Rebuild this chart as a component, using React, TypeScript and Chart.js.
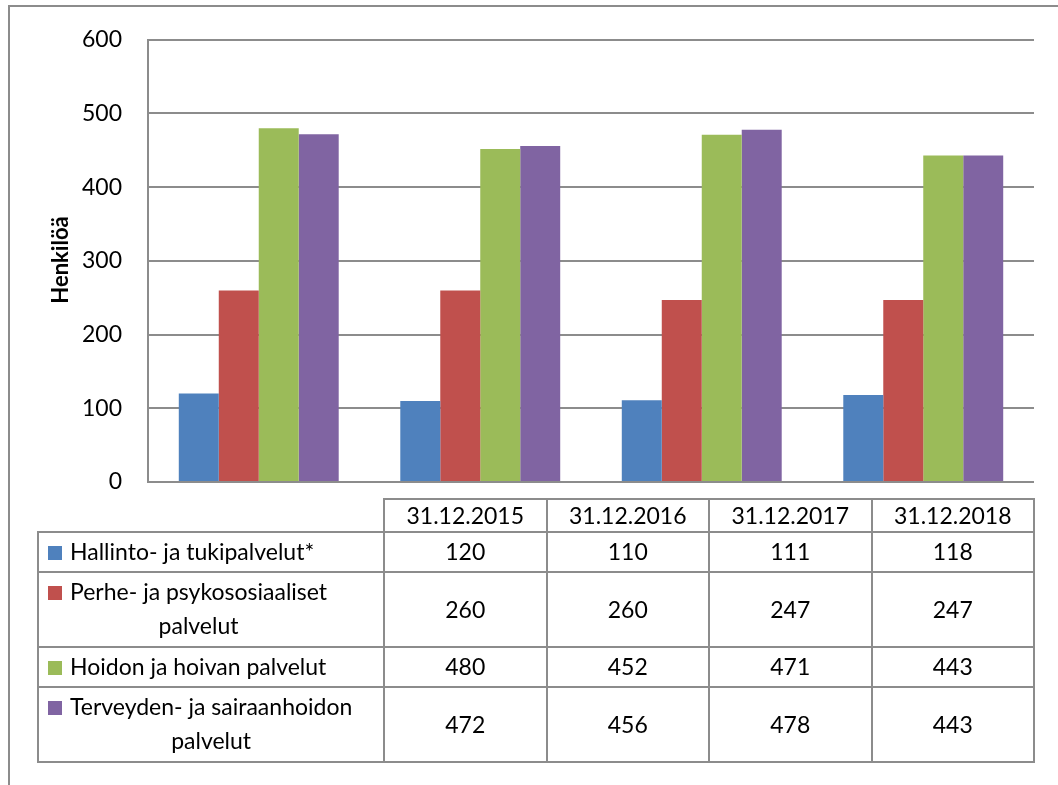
import React, { useEffect, useRef } from "react";
import { Chart, registerables } from "chart.js";

Chart.register(...registerables);

const categories = ["31.12.2015", "31.12.2016", "31.12.2017", "31.12.2018"];
const seriesNames = [
  "Hallinto- ja tukipalvelut*",
  "Perhe- ja psykososiaaliset palvelut",
  "Hoidon ja hoivan palvelut",
  "Terveyden- ja sairaanhoidon palvelut",
];
const seriesLabelLines = [
  ["Hallinto- ja tukipalvelut*"],
  ["Perhe- ja psykososiaaliset", "palvelut"],
  ["Hoidon ja hoivan palvelut"],
  ["Terveyden- ja sairaanhoidon", "palvelut"],
];
const hallinto = [120, 110, 111, 118];
const perhe = [260, 260, 247, 247];
const hoidon = [480, 452, 471, 443];
const terveyden = [472, 456, 478, 443];
const seriesValues = [hallinto, perhe, hoidon, terveyden];
const seriesColors = ["#4F81BD", "#C0504D", "#9BBB59", "#8064A2"];
const yAxisTitle = "Henkilöä";
const yMin = 0;
const yMax = 600;
const yStep = 100;

const FONT = "Lato, 'Noto Sans', sans-serif";
const GRID = "#8c8c8c";

const framePlugin = {
  id: "frameAndTable",
  afterDraw(chart: any) {
    const ctx = chart.ctx as CanvasRenderingContext2D;
    const area = chart.chartArea;
    ctx.save();
    // outer chart border (left and top, the rest is outside the picture)
    ctx.fillStyle = GRID;
    ctx.fillRect(8, 5, 1050, 2);
    ctx.fillRect(8, 5, 2, 780);

    // y axis title
    ctx.save();
    ctx.translate(61, 260);
    ctx.rotate(-Math.PI / 2);
    ctx.fillStyle = "#000";
    ctx.font = `bold 22px ${FONT}`;
    ctx.textAlign = "center";
    ctx.textBaseline = "middle";
    ctx.fillText(yAxisTitle, 0, 0);
    ctx.restore();

    // data table
    const tableLeft = 38;
    const labelRight = 384;
    const tableRight = area.right;
    const headerTop = 499;
    const headerBottom = 532;
    const colW = (tableRight - labelRight) / categories.length;
    const rowHeights = seriesLabelLines.map((l) => (l.length > 1 ? 75 : 40));

    ctx.strokeStyle = GRID;
    ctx.lineWidth = 2;
    // header box
    ctx.strokeRect(labelRight, headerTop, tableRight - labelRight, headerBottom - headerTop);
    for (let i = 1; i < categories.length; i++) {
      const x = Math.round(labelRight + colW * i);
      ctx.beginPath();
      ctx.moveTo(x, headerTop);
      ctx.lineTo(x, headerBottom);
      ctx.stroke();
    }
    ctx.fillStyle = "#000";
    ctx.font = `23px ${FONT}`;
    ctx.textAlign = "center";
    ctx.textBaseline = "middle";
    categories.forEach((c, i) => {
      ctx.fillText(c, labelRight + colW * (i + 0.5), (headerTop + headerBottom) / 2 + 1);
    });

    let y = headerBottom;
    seriesLabelLines.forEach((lines, si) => {
      const h = rowHeights[si];
      ctx.strokeRect(tableLeft, y, tableRight - tableLeft, h);
      ctx.beginPath();
      ctx.moveTo(labelRight, y);
      ctx.lineTo(labelRight, y + h);
      ctx.stroke();
      for (let i = 1; i < categories.length; i++) {
        const x = Math.round(labelRight + colW * i);
        ctx.beginPath();
        ctx.moveTo(x, y);
        ctx.lineTo(x, y + h);
        ctx.stroke();
      }
      // legend key
      const firstCenter = lines.length > 1 ? y + 21 : y + h / 2 + 1;
      ctx.fillStyle = seriesColors[si];
      ctx.fillRect(48, Math.round(firstCenter - 7), 14, 14);
      // label text
      ctx.fillStyle = "#000";
      ctx.font = `23px ${FONT}`;
      const blockW = Math.max(...lines.map((l) => ctx.measureText(l).width));
      const cx = 70 + blockW / 2;
      ctx.textAlign = "center";
      lines.forEach((l, li) => {
        ctx.fillText(l, cx, firstCenter + li * 34);
      });
      // values
      seriesValues[si].forEach((v, ci) => {
        ctx.fillText(String(v), labelRight + colW * (ci + 0.5), y + h / 2 + 1);
      });
      y += h;
    });
    ctx.restore();
  },
};

export default function App() {
  const ref = useRef<HTMLCanvasElement>(null);
  useEffect(() => {
    if (!ref.current) return;
    const chart = new Chart(ref.current, {
      type: "bar",
      data: {
        labels: categories,
        datasets: seriesNames.map((name, i) => ({
          label: name,
          data: seriesValues[i],
          backgroundColor: seriesColors[i],
          borderWidth: 0,
          categoryPercentage: 0.722,
          barPercentage: 1.0,
        })),
      },
      options: {
        animation: false,
        responsive: false,
        events: [],
        layout: { padding: { left: 0, right: 24, top: 35, bottom: 303 } },
        plugins: {
          legend: { display: false },
          tooltip: { enabled: false },
          title: { display: false },
        },
        scales: {
          x: {
            display: false,
          },
          y: {
            min: yMin,
            max: yMax,
            ticks: {
              stepSize: yStep,
              color: "#000",
              font: { family: FONT, size: 23 },
              padding: 26,
            },
            grid: { color: GRID, lineWidth: 2, drawTicks: false },
            border: { display: true, color: GRID, width: 2 },
            afterFit: (scale: any) => {
              scale.width = 148;
            },
          },
        },
      },
      plugins: [framePlugin],
    });
    return () => chart.destroy();
  }, []);
  return (
    <div style={{ position: "absolute", left: 0, top: 0, width: 1058, height: 785, background: "#fff" }}>
      <canvas ref={ref} width={1058} height={785} style={{ display: "block", width: 1058, height: 785 }} />
    </div>
  );
}
